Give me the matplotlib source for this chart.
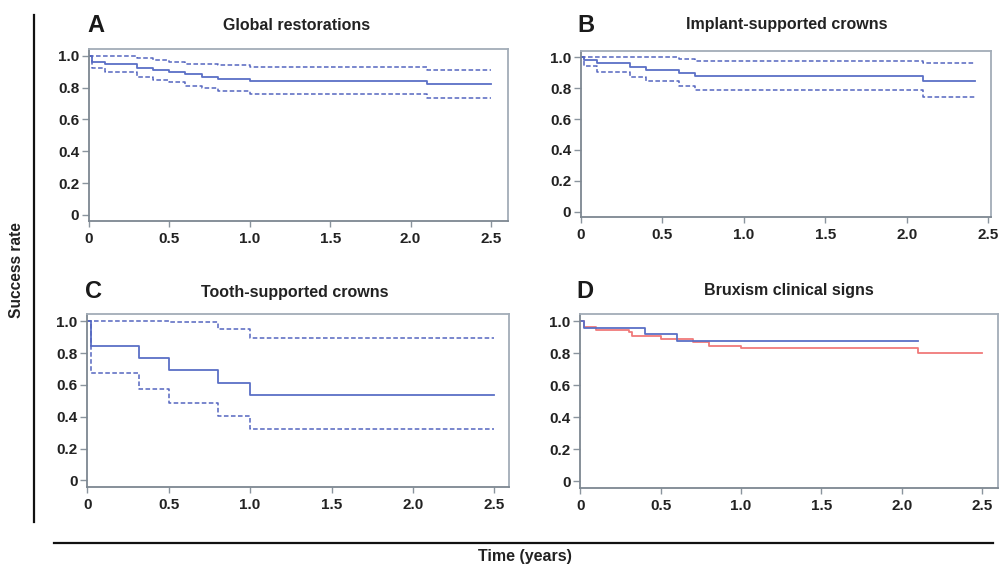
import matplotlib
matplotlib.use("Agg")
from matplotlib import pyplot as plt
from matplotlib.lines import Line2D

plt.rcParams['font.family'] = ['Liberation Sans', 'DejaVu Sans']

# A - global restorations
times_a = [0, 0.02, 0.1, 0.3, 0.4, 0.5, 0.6, 0.7, 0.8, 1.0, 2.1, 2.5]
surv_a = [1.0, 0.958, 0.946, 0.921, 0.908, 0.895, 0.883, 0.868, 0.856, 0.841, 0.820, 0.820]
upper_a = [1.0, 1.0, 1.0, 0.983, 0.972, 0.960, 0.950, 0.950, 0.939, 0.928, 0.913, 0.913]
lower_a = [1.0, 0.921, 0.897, 0.864, 0.847, 0.832, 0.812, 0.795, 0.780, 0.759, 0.732, 0.732]

# B - implant-supported crowns
times_b = [0, 0.02, 0.1, 0.3, 0.4, 0.6, 0.7, 2.1, 2.42]
surv_b = [1.0, 0.983, 0.961, 0.940, 0.918, 0.896, 0.877, 0.847, 0.847]
upper_b = [1.0, 1.0, 1.0, 1.0, 1.0, 0.989, 0.976, 0.961, 0.961]
lower_b = [1.0, 0.942, 0.905, 0.875, 0.844, 0.814, 0.788, 0.741, 0.741]

# C - tooth-supported crowns
times_c = [0, 0.02, 0.32, 0.5, 0.8, 1.0, 2.5]
surv_c = [1.0, 0.846, 0.769, 0.692, 0.615, 0.538, 0.538]
upper_c = [1.0, 1.0, 1.0, 0.995, 0.950, 0.892, 0.892]
lower_c = [1.0, 0.673, 0.577, 0.484, 0.403, 0.325, 0.325]

# D - bruxism clinical signs
times_d_blue = [0, 0.02, 0.4, 0.6, 2.1]
surv_d_blue = [1.0, 0.956, 0.917, 0.873, 0.873]
times_d_red = [0, 0.02, 0.1, 0.3, 0.32, 0.5, 0.7, 0.8, 1.0, 2.1, 2.5]
surv_d_red = [1.0, 0.963, 0.946, 0.934, 0.905, 0.888, 0.871, 0.846, 0.830, 0.798, 0.798]

letters = ['A', 'B', 'C', 'D']
titles = ['Global restorations', 'Implant-supported crowns',
          'Tooth-supported crowns', 'Bruxism clinical signs']
xticks = [0, 0.5, 1.0, 1.5, 2.0, 2.5]
xlabels = ['0', '0.5', '1.0', '1.5', '2.0', '2.5']
yticks = [0, 0.2, 0.4, 0.6, 0.8, 1.0]
ylabels = ['0', '0.2', '0.4', '0.6', '0.8', '1.0']

blue = '#5b6fc6'
dblue = '#5566c0'
red = '#f07a7a'
W, H = 1001, 565


def make_axes(fig, left, right, top, bottom, xmax, ylo, yhi):
    ax = fig.add_axes([left / W, 1 - bottom / H, (right - left) / W, (bottom - top) / H])
    ax.set_xlim(0, xmax)
    ax.set_ylim(ylo, yhi)
    for s in ['top', 'right']:
        ax.spines[s].set_color('#a3adb8')
        ax.spines[s].set_linewidth(1.3)
    for s in ['left', 'bottom']:
        ax.spines[s].set_color('#7d8791')
        ax.spines[s].set_linewidth(1.3)
    ax.set_xticks(xticks, xlabels)
    ax.set_yticks(yticks, ylabels)
    ax.tick_params(axis='both', direction='out', color='#8a949e', width=1,
                   labelsize=11, labelcolor='#222222')
    ax.tick_params(axis='y', length=5, pad=2)
    ax.tick_params(axis='x', length=4, pad=4)
    for lab in ax.get_xticklabels() + ax.get_yticklabels():
        lab.set_fontweight('bold')
    return ax


def km(ax, t, s, up=None, lo=None):
    ax.step(t, s, where='post', color=blue, lw=1.3)
    if up is not None:
        ax.step(t, up, where='post', color=dblue, lw=1.1, dashes=(3, 1.6))
        ax.step(t, lo, where='post', color=dblue, lw=1.1, dashes=(3, 1.6))


fig = plt.figure(figsize=(10.01, 5.65), dpi=100)

ax_a = make_axes(fig, 89, 508, 49, 221, 2.606, -0.038, 1.042)
km(ax_a, times_a, surv_a, upper_a, lower_a)

ax_b = make_axes(fig, 581, 990.7, 50.7, 217.3, 2.514, -0.037, 1.043)
km(ax_b, times_b, surv_b, upper_b, lower_b)

ax_c = make_axes(fig, 87.3, 509, 314.3, 486.7, 2.59, -0.040, 1.044)
km(ax_c, times_c, surv_c, upper_c, lower_c)

ax_d = make_axes(fig, 580.3, 998.3, 314, 488, 2.6, -0.042, 1.044)
ax_d.step(times_d_red, surv_d_red, where='post', color=red, lw=1.3)
ax_d.step(times_d_blue, surv_d_blue, where='post', color=blue, lw=1.3)

letter_pos = [(96, 26), (586, 25), (94, 292), (585, 292)]
title_pos = [(297, 26), (787, 24), (295, 292), (789, 291)]
for l, (lx, ly), t, (tx, ty) in zip(letters, letter_pos, titles, title_pos):
    fig.text(lx / W, 1 - ly / H, l, fontsize=17, fontweight='bold',
             color='#1a1a1a', ha='center', va='center')
    fig.text(tx / W, 1 - ty / H, t, fontsize=11.5, fontweight='bold',
             color='#222222', ha='center', va='center')

# outer frame lines
fig.add_artist(Line2D([34 / W, 34 / W], [1 - 15 / H, 1 - 522 / H], color='#111111', lw=1.6))
fig.add_artist(Line2D([54 / W, 993 / W], [1 - 543 / H, 1 - 543 / H], color='#111111', lw=1.6))

fig.text(17 / W, 1 - 270 / H, 'Success rate', rotation=90, fontsize=11.2,
         fontweight='bold', color='#222222', ha='center', va='center')
fig.text(525 / W, 1 - 557 / H, 'Time (years)', fontsize=11.5,
         fontweight='bold', color='#222222', ha='center', va='center')

fig.savefig('out.png', dpi=100)
